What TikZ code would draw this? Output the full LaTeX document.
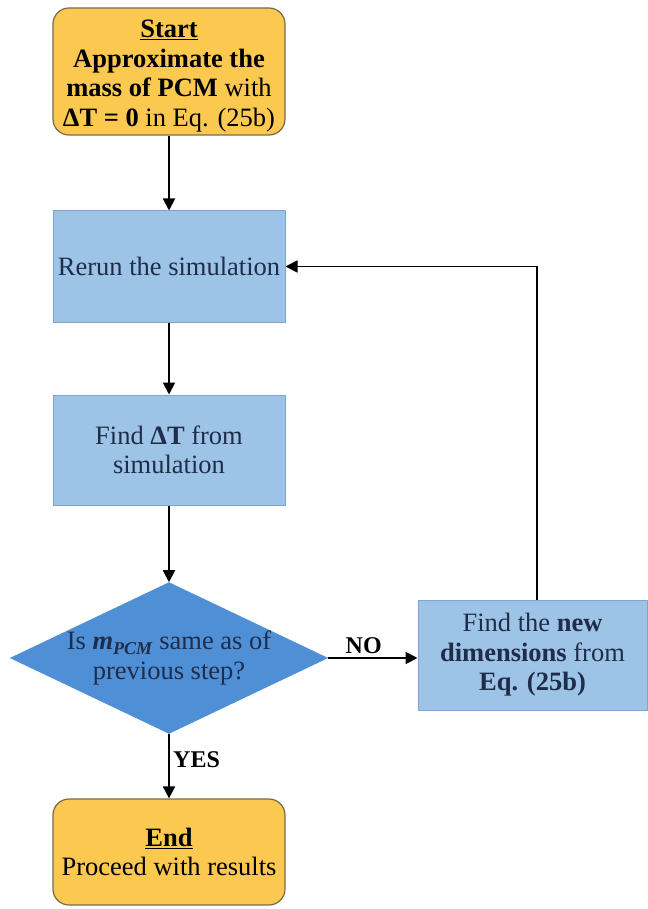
\documentclass[tikz,border=0pt]{standalone}
\usepackage{fontspec}
\setmainfont{Liberation Serif}
\usetikzlibrary{shapes.geometric,arrows.meta}
\definecolor{startfill}{HTML}{FBC850}
\definecolor{startdraw}{HTML}{7A6A4A}
\definecolor{boxfill}{HTML}{9DC3E6}
\definecolor{boxdraw}{HTML}{7EA6D2}
\definecolor{diafill}{HTML}{4F8FD6}
\definecolor{txt}{HTML}{1F2D4A}
\tikzset{
  x=1pt,y=-1pt,
  term/.style={draw=startdraw,line width=1.2pt,fill=startfill,rounded corners=16pt,minimum width=232pt,align=center,text=black,inner sep=2pt},
  proc/.style={draw=boxdraw,line width=1pt,fill=boxfill,minimum width=232pt,minimum height=111pt,align=center,text=txt,inner sep=2pt},
  dec/.style={diamond,draw=diafill,fill=diafill,aspect=2.1,inner sep=0pt,minimum width=313pt,minimum height=149pt,align=center,text=txt},
  conn/.style={line width=1.8pt,-{Triangle[length=12pt,width=12pt]}},
  lbl/.style={font=\fontsize{24}{28}\selectfont\bfseries,text=black}
}
\begin{document}
\begin{tikzpicture}[font=\fontsize{26.5}{29.5}\selectfont]
\fill[white] (0,0) rectangle (647,909);
\useasboundingbox (0,0) rectangle (647,909);
\node[term,minimum height=127pt] (start) at (169,71.5) {};
\node[align=center,inner sep=0pt] (starttext) at (169,76) {\textbf{\underline{Start}}\\\textbf{Approximate the}\\\textbf{mass of PCM} with\\\textbf{ΔT = 0} in Eq. (25b)};
\node[proc] (rerun) at (169,266.5) {Rerun the simulation};
\node[proc,minimum height=110pt] (find) at (169,450) {Find \textbf{ΔT} from\\simulation};
\node[dec] (dec) at (169,658) {Is \textbf{\textit{m}}\raisebox{-5pt}{\fontsize{18}{18}\selectfont\textbf{\textit{PCM}}} same as of\\previous step?};
\node[proc,minimum width=229pt,minimum height=110pt] (new) at (532.5,655) {Find the \textbf{new}\\\textbf{dimensions} from\\\textbf{Eq. (25b)}};
\node[term,minimum height=106pt] (end) at (169,852) {\textbf{\underline{End}}\\Proceed with results};
\coordinate (up) at (537,600);
\draw[conn] (start) -- (rerun);
\draw[conn] (rerun) -- (find);
\draw[conn] (find) -- (dec);
\draw[conn] (dec.east) -- node[lbl,above,pos=0.4] {NO} (dec.east -| new.west);
\draw[conn] (up) |- (rerun.east);
\draw[conn] (dec.south) -- node[lbl,right,pos=0.4] {YES} (end.north);
\end{tikzpicture}
\end{document}
